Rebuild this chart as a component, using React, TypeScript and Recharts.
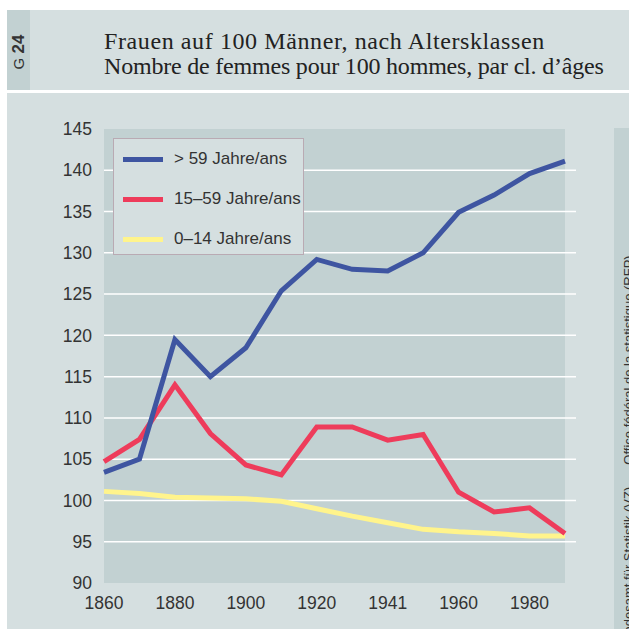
import React from 'react';
import { CartesianGrid, Line, LineChart, XAxis, YAxis } from 'recharts';

const years = ['1860', '1870', '1880', '1888', '1900', '1910', '1920', '1930', '1941', '1950', '1960', '1970', '1980', '1990'];
const over59 = [103.4, 105.0, 119.5, 115.0, 118.5, 125.4, 129.2, 128.0, 127.8, 130.0, 134.9, 137.0, 139.6, 141.1];
const age15to59 = [104.7, 107.4, 114.0, 108.1, 104.3, 103.1, 108.9, 108.9, 107.3, 108.0, 101.0, 98.6, 99.1, 96.0];
const age0to14 = [101.1, 100.85, 100.4, 100.3, 100.2, 99.9, 99.0, 98.1, 97.3, 96.5, 96.2, 96.0, 95.7, 95.7];
const yTicks = [90, 95, 100, 105, 110, 115, 120, 125, 130, 135, 140, 145];

const seriesInfo = [
  { key: 'over59', label: '> 59 Jahre/ans', color: '#3e55a1' },
  { key: 'mid', label: '15–59 Jahre/ans', color: '#ee3c5b' },
  { key: 'young', label: '0–14 Jahre/ans', color: '#fff48c' },
];

const data = years.map((year, i) => ({
  year,
  over59: over59[i],
  mid: age15to59[i],
  young: age0to14[i],
}));

const panel = '#d5dfe0';
const plotBg = '#c2d1d2';
const sans = '"Liberation Sans Narrow", "Liberation Sans", Arial, sans-serif';
const serif = '"Liberation Serif", "DejaVu Serif", serif';

// legend is a plain box over the plot, recharts Legend would steal plot space
const LegendBox = () => (
  <div
    style={{
      position: 'absolute',
      left: 113,
      top: 138,
      width: 191,
      height: 117,
      background: panel,
      border: '1px solid #b9aab3',
      boxSizing: 'border-box',
    }}
  >
    {seriesInfo.map((s) => (
      <div key={s.key} style={{ display: 'flex', alignItems: 'center', height: 40 }}>
        <div style={{ width: 40, height: 5, background: s.color, marginLeft: 9, marginRight: 11 }} />
        <span style={{ fontFamily: sans, fontSize: 17, color: '#333' }}>{s.label}</span>
      </div>
    ))}
  </div>
);

const GridLine = (props: any) => {
  const { x1, x2, y1, y2, offset } = props;
  if (offset && (Math.abs(y1 - offset.top) < 1 || Math.abs(y1 - (offset.top + offset.height)) < 1)) {
    return <g />;
  }
  return <line x1={x1} x2={x2 + 11} y1={y1} y2={y2} stroke="#ffffff" strokeWidth={1.5} />;
};

const sideText = {
  position: 'absolute' as const,
  left: 14,
  transform: 'translate(-50%, -50%) rotate(-90deg)',
  whiteSpace: 'nowrap' as const,
  fontFamily: sans,
  fontSize: 13,
  color: '#333',
};

export default function App() {
  return (
    <div style={{ position: 'absolute', left: 0, top: 0, width: 629, height: 629, background: '#fff', overflow: 'hidden' }}>
      <div style={{ position: 'absolute', left: 7, top: 10, width: 23, height: 80, background: plotBg }}>
        <div
          style={{
            position: 'absolute',
            left: 12,
            top: 42,
            transform: 'translate(-50%, -50%) rotate(-90deg)',
            whiteSpace: 'nowrap',
            fontFamily: '"Liberation Sans", Arial, sans-serif',
            fontSize: 15,
            color: '#333',
          }}
        >
          G <b style={{ fontSize: 17 }}>24</b>
        </div>
      </div>
      <div style={{ position: 'absolute', left: 30, top: 10, width: 599, height: 80, background: panel }}>
        <div
          style={{
            position: 'absolute',
            left: 74,
            top: 19,
            fontFamily: serif,
            fontSize: 24,
            lineHeight: '25px',
            color: '#222',
            whiteSpace: 'nowrap',
          }}
        >
          <div style={{ letterSpacing: 0.6 }}>Frauen auf 100 Männer, nach Altersklassen</div>
          <div style={{ letterSpacing: -0.2 }}>Nombre de femmes pour 100 hommes, par cl. d’âges</div>
        </div>
      </div>
      <div style={{ position: 'absolute', left: 7, top: 93, width: 622, height: 536, background: panel }} />
      <div style={{ position: 'absolute', left: 614, top: 128, width: 15, height: 501, background: plotBg }}>
        <div style={{ ...sideText, top: 232 }}>Office fédéral de la statistique (RFP)</div>
        <div style={{ ...sideText, top: 440 }}>Bundesamt für Statistik (VZ)</div>
      </div>
      <div style={{ position: 'absolute', left: 0, top: 0 }}>
        <LineChart width={629} height={629} data={data} margin={{ top: 129, right: 64, bottom: 16, left: 44 }}>
          <CartesianGrid fill={plotBg} vertical={false} horizontal={(p: any) => <GridLine key={`g-${p.y1}`} {...p} />} />
          <XAxis
            dataKey="year"
            interval={1}
            axisLine={false}
            tickLine={false}
            tickSize={0}
            tickMargin={14}
            height={30}
            tick={{ fill: '#333', fontSize: 17.5, fontFamily: sans }}
          />
          <YAxis
            domain={[90, 145]}
            ticks={yTicks}
            interval={0}
            axisLine={false}
            tickLine={false}
            tickSize={0}
            tickMargin={12}
            width={60}
            tick={{ fill: '#333', fontSize: 17.5, fontFamily: sans }}
          />
          <Line dataKey="young" stroke="#fff48c" strokeWidth={5} dot={false} isAnimationActive={false} strokeLinejoin="miter" />
          <Line dataKey="mid" stroke="#ee3c5b" strokeWidth={5} dot={false} isAnimationActive={false} strokeLinejoin="miter" />
          <Line dataKey="over59" stroke="#3e55a1" strokeWidth={5} dot={false} isAnimationActive={false} strokeLinejoin="miter" />
        </LineChart>
      </div>
      <LegendBox />
    </div>
  );
}
